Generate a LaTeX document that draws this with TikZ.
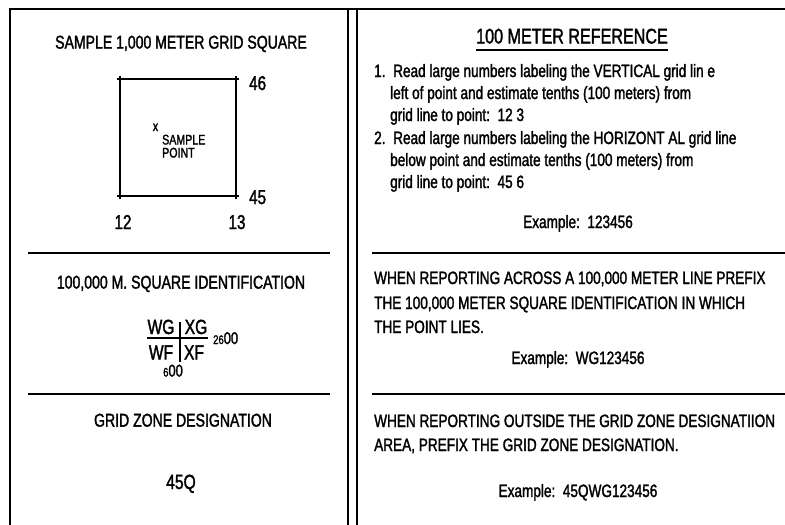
\documentclass[tikz,border=0pt]{standalone}
\usepackage{fontspec}
\setmainfont[FakeStretch=0.76,FakeBold=1.6]{Liberation Sans}
\begin{document}
\begin{tikzpicture}[x=1pt,y=-1pt,
  heavy/.style={line width=2.4pt},
  sepline/.style={line width=2.4pt},
  gridline/.style={line width=1.8pt},
  ctext/.style={inner sep=0pt,anchor=base,font=\fontsize{18.5}{20}\selectfont},
  ltext/.style={inner sep=0pt,anchor=base west,font=\fontsize{17.9}{20}\selectfont},
  extext/.style={inner sep=0pt,anchor=base,font=\fontsize{17.9}{20}\selectfont},
  bignum/.style={inner sep=0pt,anchor=base,font=\fontsize{20}{22}\selectfont},
  fractext/.style={inner sep=0pt,anchor=base,font=\fontsize{20.5}{22}\selectfont},
  smalltext/.style={inner sep=0pt,anchor=base west,font=\fontsize{14}{12}\selectfont}]
\useasboundingbox (0,0) rectangle (785,525);
% frame
\coordinate (tl) at (10,9);
\coordinate (tr) at (786,9);
\coordinate (bl) at (10,526);
\coordinate (d1t) at (348,9);
\coordinate (d1b) at (348,526);
\coordinate (d2t) at (357,9);
\coordinate (d2b) at (357,526);
\draw[heavy] (bl) -- (tl) -- (tr);
\draw[heavy] (d1t) -- (d1b);
\draw[heavy] (d2t) -- (d2b);
% separators
\coordinate (ls1a) at (28,253); \coordinate (ls1b) at (330,253);
\coordinate (ls2a) at (28,394); \coordinate (ls2b) at (330,394);
\coordinate (rs1a) at (372,253); \coordinate (rs1b) at (786,253);
\coordinate (rs2a) at (372,394); \coordinate (rs2b) at (786,394);
\draw[sepline] (ls1a) -- (ls1b);
\draw[sepline] (ls2a) -- (ls2b);
\draw[sepline] (rs1a) -- (rs1b);
\draw[sepline] (rs2a) -- (rs2b);

% ---- left panel, section 1
\node[ctext] (h1) at (181,48.6) {SAMPLE 1,000 METER GRID SQUARE};
\coordinate (sqnw) at (120,79);
\coordinate (sqne) at (236,79);
\coordinate (sqse) at (236,196);
\coordinate (sqsw) at (120,196);
\draw[gridline] ([xshift=-3pt]sqnw) -- ([xshift=3pt]sqne);
\draw[gridline] ([xshift=-3pt]sqsw) -- ([xshift=3pt]sqse);
\draw[gridline] ([yshift=3pt]sqnw) -- ([yshift=-3pt]sqsw);
\draw[gridline] ([yshift=3pt]sqne) -- ([yshift=-3pt]sqse);
\node[bignum,anchor=base west] (n46) at (249,90) {46};
\node[bignum,anchor=base west] (n45) at (249,204) {45};
\node[bignum] (n12) at (123,229) {12};
\node[bignum] (n13) at (237,229) {13};
\node[inner sep=0pt,anchor=base,font=\fontsize{14}{14}\selectfont] (xmark) at (155.5,131) {x};
\node[smalltext] (sp1) at (162,144.5) {SAMPLE};
\node[smalltext] (sp2) at (162,157.5) {POINT};

% ---- left panel, section 2
\node[ctext] (h2) at (181,288.6) {100,000 M. SQUARE IDENTIFICATION};
\node[fractext] (wg) at (161,334) {WG};
\node[fractext] (xg) at (196,334) {XG};
\node[fractext] (wf) at (161,359.5) {WF};
\node[fractext] (xf) at (194,359.5) {XF};
\coordinate (fl) at (147,338); \coordinate (fr) at (208,338);
\coordinate (ft) at (180,322); \coordinate (fb) at (180,362);
\draw[line width=1.6pt] (fl) -- (fr);
\draw[line width=1.2pt] (ft) -- (fb);
\node[inner sep=0pt,anchor=base west] (e2600) at (213,344) {\fontsize{12.5}{12}\selectfont 26\fontsize{17}{16}\selectfont 00};
\node[inner sep=0pt,anchor=base west] (e600) at (163,376.5) {\fontsize{12.5}{12}\selectfont 6\fontsize{17}{16}\selectfont 00};

% ---- left panel, section 3
\node[ctext] (h3) at (183,426.6) {GRID ZONE DESIGNATION};
\node[fractext] (gzd) at (181,489) {45Q};

% ---- right panel, section 1
\node[inner sep=0pt,anchor=base,font=\fontsize{21.2}{22}\selectfont] (title) at (572,43.5) {100 METER REFERENCE};
\draw[line width=1.8pt] ([yshift=-6.5pt]title.base west) -- ([yshift=-6.5pt]title.base east);
\node[ltext] (n1) at (374,77) {1.};
\node[ltext] (r1a) at (393,77) {Read large numbers labeling the VERTICAL grid lin e};
\node[ltext] (r1b) at (390,99) {left of point and estimate tenths (100 meters) from};
\node[ltext] (r1c) at (390,121) {grid line to point:\ \ 12 3};
\node[ltext] (n2) at (374,144) {2.};
\node[ltext] (r2a) at (393,144) {Read large numbers labeling the HORIZONT AL grid line};
\node[ltext] (r2b) at (390,166) {below point and estimate tenths (100 meters) from};
\node[ltext] (r2c) at (390,188) {grid line to point:\ \ 45 6};
\node[extext] (ex1) at (578,228) {Example:\ \ 123456};

% ---- right panel, section 2
\node[ltext] (m1) at (374,284) {WHEN REPORTING ACROSS A 100,000 METER LINE PREFIX};
\node[ltext] (m2) at (374,309) {THE 100,000 METER SQUARE IDENTIFICATION IN WHICH};
\node[ltext] (m3) at (374,333) {THE POINT LIES.};
\node[extext] (ex2) at (578,364) {Example:\ \ WG123456};

% ---- right panel, section 3
\node[ltext] (b1) at (374,427) {WHEN REPORTING OUTSIDE THE GRID ZONE DESIGNATIION};
\node[ltext] (b2) at (374,451) {AREA, PREFIX THE GRID ZONE DESIGNATION.};
\node[extext] (ex3) at (578,497) {Example:\ \ 45QWG123456};
\end{tikzpicture}
\end{document}
